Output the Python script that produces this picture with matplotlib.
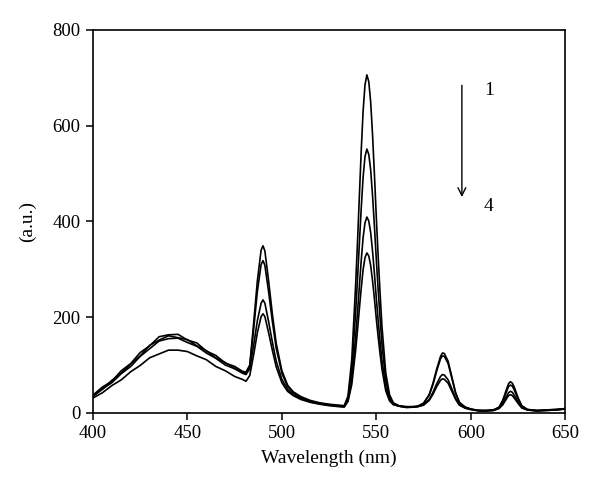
import numpy as np
import matplotlib
import matplotlib.pyplot as plt
matplotlib.use('Agg')

# wavelength grid (nm), shared by all four spectra
wavelength = [400, 405, 410, 415, 420, 425, 430, 435, 440, 445, 450, 455, 460, 465, 470, 475, 479,
              481, 483, 485, 487, 489, 490, 491, 493, 495, 497, 500, 503, 506, 510, 515,
              520, 525, 530, 533,
              535, 537, 539, 540, 541, 542, 543, 544, 545, 546, 547, 548, 549, 550, 551, 552, 553, 555, 557, 559, 562,
              566, 570,
              572, 575, 578, 580, 582, 584, 585, 586, 588, 590, 592, 594, 597, 600,
              604, 608,
              612, 615, 617, 619, 620, 621, 622, 623, 625, 627, 630, 635,
              640, 645, 650]

# intensities (a.u.), curve 1 .. curve 4
spec1 = [37, 54, 66, 88, 103, 126, 140, 159, 163, 164, 152, 146, 129, 120, 104, 97, 87,
         85, 100, 185, 275, 340, 349, 338, 275, 205, 145, 88, 58, 44, 34, 26,
         21, 18, 16, 15,
         35, 111, 263, 353, 450, 547, 630, 685, 706, 692, 650, 581, 498, 408, 325, 249, 180, 83, 38, 21, 15,
         13, 13,
         14, 20, 38, 62, 92, 118, 125, 124, 108, 75, 42, 22, 12, 8,
         5, 5,
         6, 12, 27, 50, 61, 65, 62, 54, 32, 15, 7, 5,
         6, 7, 9]
spec2 = [36, 49, 68, 83, 102, 119, 141, 152, 161, 157, 153, 140, 130, 115, 105, 93, 86,
         82, 97, 172, 253, 310, 318, 308, 252, 190, 135, 83, 55, 42, 32, 24,
         20, 17, 15, 14,
         30, 89, 207, 277, 352, 427, 492, 535, 551, 540, 508, 454, 390, 320, 256, 197, 143, 68, 33, 19, 14,
         12, 13,
         14, 20, 37, 59, 88, 113, 119, 118, 103, 72, 40, 21, 12, 8,
         5, 5,
         6, 11, 25, 45, 55, 58, 56, 48, 29, 14, 7, 5,
         6, 7, 8]
spec3 = [34, 50, 63, 82, 97, 118, 134, 150, 155, 156, 147, 139, 125, 114, 100, 92, 83,
         80, 92, 140, 192, 229, 236, 229, 190, 147, 108, 70, 49, 38, 30, 23,
         19, 16, 14, 13,
         26, 69, 156, 208, 263, 318, 366, 397, 409, 401, 377, 338, 291, 239, 192, 148, 109, 54, 28, 18, 14,
         12, 12,
         13, 17, 28, 43, 61, 76, 80, 79, 69, 50, 30, 17, 10, 7,
         5, 4,
         5, 10, 20, 35, 42, 45, 43, 37, 23, 12, 6, 4,
         5, 6, 8]
spec4 = [31, 42, 57, 69, 86, 99, 115, 123, 131, 131, 128, 119, 111, 97, 88, 76, 70,
         66, 78, 120, 167, 201, 207, 201, 167, 130, 96, 63, 45, 36, 28, 22,
         18, 15, 13, 12,
         24, 59, 129, 171, 216, 260, 299, 324, 334, 328, 308, 276, 238, 196, 158, 123, 91, 46, 25, 17, 14,
         11, 12,
         13, 16, 26, 39, 55, 68, 71, 70, 62, 45, 28, 16, 10, 7,
         4, 4,
         5, 9, 17, 30, 36, 38, 36, 31, 20, 10, 6, 4,
         5, 6, 8]

x_ticks = [400, 450, 500, 550, 600, 650]
y_ticks = [0, 200, 400, 600, 800]

plt.rcParams['font.family'] = ['Liberation Serif', 'DejaVu Serif']

fig = plt.figure(figsize=(6.0, 4.98), dpi=100)
ax = fig.add_axes([0.155, 0.171, 0.787, 0.769])

for s in [spec1, spec2, spec3, spec4]:
    ax.plot(wavelength, s, color='black', lw=1.2)

ax.set_xlim(400, 650)
ax.set_ylim(0, 800)
ax.set_xticks(x_ticks)
ax.set_yticks(y_ticks)
ax.tick_params(direction='out', length=5, width=1.1, labelsize=13.5, pad=4)
for sp in ax.spines.values():
    sp.set_linewidth(1.2)

ax.set_xlabel('Wavelength (nm)', fontsize=14, labelpad=5)
ax.set_ylabel('(a.u.)', fontsize=14, labelpad=12)

# arrow showing the order 1 -> 4
ax.annotate('', xy=(595.3, 445), xytext=(595.3, 690),
            arrowprops=dict(arrowstyle='->', color='black', lw=1.0, mutation_scale=14))
ax.text(607, 674, '1', fontsize=14, va='center', ha='left')
ax.text(607, 432, '4', fontsize=14, va='center', ha='left')

fig.savefig('out.png', dpi=100)
